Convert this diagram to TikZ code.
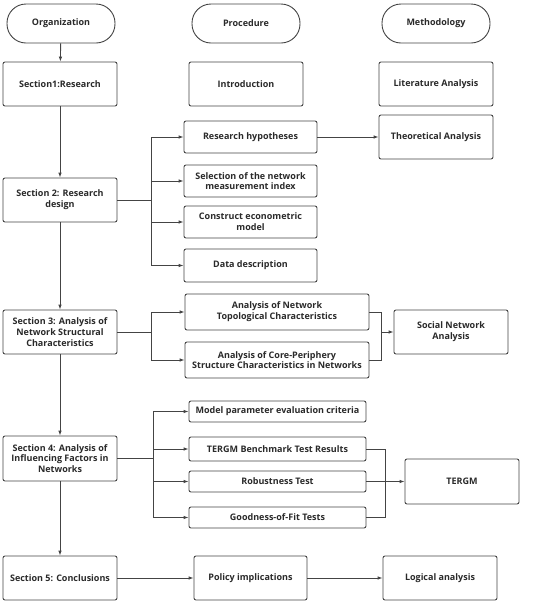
\documentclass[tikz,border=0pt]{standalone}
\usepackage{fontspec}
\setmainfont{Open Sans}
\usetikzlibrary{arrows.meta}
\definecolor{ln}{HTML}{444444}
\definecolor{tx}{HTML}{2A2A2A}
\tikzset{
  box/.style={draw=ln, line width=0.9pt, rounded corners=2pt, fill=white, align=center, text=tx, font=\fontsize{9}{10.8}\selectfont\bfseries, inner sep=1pt},
  term/.style={box, rounded corners=19pt},
  arr/.style={draw=ln, line width=0.9pt, -{Latex[length=5pt,width=3.6pt]}},
  ln/.style={draw=ln, line width=0.9pt},
}
\begin{document}
\begin{tikzpicture}[x=1pt,y=-1pt]
\useasboundingbox (0,0) rectangle (550,606);
% headers
\node[term, minimum width=108pt, minimum height=39pt] (org) at (61,23.5) {Organization};
\node[term, minimum width=108pt, minimum height=39pt] (proc) at (246,23.5) {Procedure};
\node[term, minimum width=108pt, minimum height=39pt] (meth) at (436,23.5) {Methodology};
% row 1
\node[box, minimum width=114pt, minimum height=44pt] (s1) at (60,84) {Section1:Research};
\node[box, minimum width=114pt, minimum height=44pt] (intro) at (246,84) {Introduction};
\node[box, minimum width=114pt, minimum height=44pt] (lit) at (436,84) {Literature Analysis};
% row 2
\node[box, minimum width=114pt, minimum height=44pt] (s2) at (60,200) {Section 2: Research\\design};
\node[box, minimum width=133pt, minimum height=32pt] (rh) at (250.5,137) {Research hypotheses};
\node[box, minimum width=114pt, minimum height=44pt] (ta) at (436,137) {Theoretical Analysis};
\node[box, minimum width=133pt, minimum height=32pt] (sel) at (250.5,181) {Selection of the network\\measurement index};
\node[box, minimum width=133pt, minimum height=32pt] (con) at (250.5,222) {Construct econometric\\model};
\node[box, minimum width=133pt, minimum height=33pt] (data) at (250.5,265.5) {Data description};
% row 3
\node[box, minimum width=114pt, minimum height=44pt] (s3) at (60,332) {Section 3: Analysis of\\Network Structural\\Characteristics};
\node[box, minimum width=184pt, minimum height=36pt] (ant) at (277,312) {Analysis of Network\\Topological Characteristics};
\node[box, minimum width=184pt, minimum height=36pt] (cp) at (277,360) {Analysis of Core-Periphery\\Structure Characteristics in Networks};
\node[box, minimum width=114pt, minimum height=44pt] (sna) at (451,332) {Social Network\\Analysis};
% row 4
\node[box, minimum width=114pt, minimum height=45pt] (s4) at (60,458.5) {Section 4: Analysis of\\Influencing Factors in\\Networks};
\node[box, minimum width=177pt, minimum height=21pt] (mp) at (277.5,411.5) {Model parameter evaluation criteria};
\node[box, minimum width=177pt, minimum height=24pt] (tb) at (277.5,449) {TERGM Benchmark Test Results};
\node[box, minimum width=177pt, minimum height=21pt] (rob) at (277.5,481.5) {Robustness Test};
\node[box, minimum width=177pt, minimum height=21pt] (gof) at (277.5,517.5) {Goodness-of-Fit Tests};
\node[box, minimum width=114pt, minimum height=45pt] (tergm) at (462,481.5) {TERGM};
% row 5
\node[box, minimum width=114pt, minimum height=44pt] (s5) at (60,578) {Section 5: Conclusions};
\node[box, minimum width=113pt, minimum height=44pt] (pol) at (250.5,578) {Policy implications};
\node[box, minimum width=114pt, minimum height=44pt] (log) at (440,578) {Logical analysis};
% main vertical
\draw[arr] (org) -- (s1);
\draw[arr] (s1) -- (s2);
\draw[arr] (s2) -- (s3);
\draw[arr] (s3) -- (s4);
\draw[arr] (s4) -- (s5);
% section 2 branches
\coordinate (j2) at (151,200);
\draw[ln] (s2.east) -- (j2);
\draw[arr] (j2) |- (rh.west);
\draw[arr] (j2) |- (sel.west);
\draw[arr] (j2) |- (con.west);
\draw[arr] (j2) |- (data.west);
\draw[arr] (rh.east) -- (ta.west |- rh.east);
% section 3 branches
\coordinate (j3) at (151,332);
\draw[ln] (s3.east) -- (j3);
\draw[arr] (j3) |- (ant.west);
\draw[arr] (j3) |- (cp.west);
\coordinate (k3) at (381,332);
\draw[ln] (ant.east) -| (k3);
\draw[ln] (cp.east) -| (k3);
\draw[arr] (k3) -- (sna.west);
% section 4 branches
\coordinate (j4) at (153,458.5);
\draw[ln] (s4.east) -- (j4);
\draw[arr] (j4) |- (mp.west);
\draw[arr] (j4) |- (tb.west);
\draw[arr] (j4) |- (rob.west);
\draw[arr] (j4) |- (gof.west);
\coordinate (k4) at (385,481.5);
\draw[ln] (tb.east) -| (k4);
\draw[ln] (gof.east) -| (k4);
\draw[arr] (rob.east) -- (tergm.west);
% section 5
\draw[arr] (s5) -- (pol);
\draw[arr] (pol) -- (log);
\end{tikzpicture}
\end{document}
